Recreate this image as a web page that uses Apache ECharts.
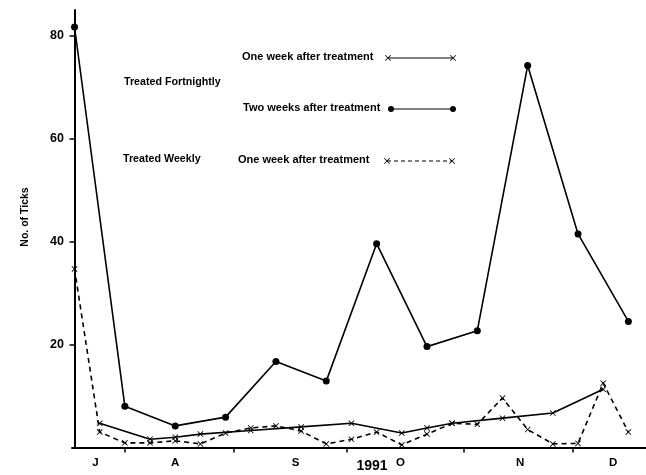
<!DOCTYPE html>
<html><head><meta charset="utf-8">
<script src="https://cdn.jsdelivr.net/npm/echarts@6/dist/echarts.min.js"></script>
<style>html,body{margin:0;padding:0;background:#fff}#c{width:646px;height:475px}</style>
</head><body><div id="c"></div>
<script>
// week index from mid-July 1991
var twoWeeksX = [0,2,4,6,8,10,12,14,16,18,20,22];
var twoWeeksY = [81.7,8.0,4.2,5.9,16.7,12.9,39.6,19.6,22.7,74.2,41.5,24.5];
var fortOneWeekX = [1,3,4,5,7,9,11,13,14,15,17,19,21];
var fortOneWeekY = [4.7,1.6,2.0,2.6,3.3,4.0,4.7,2.8,3.8,4.7,5.7,6.7,11.3];
var weeklyX = [0,1,2,3,4,5,6,7,8,9,10,11,12,13,14,15,16,17,18,19,20,21,22];
var weeklyY = [34.7,3.0,0.9,0.9,1.3,0.7,2.8,3.8,4.2,3.2,0.7,1.6,3.0,0.5,2.6,4.7,4.5,9.6,3.5,0.7,0.8,12.5,3.0];
var monthLabels = ['J','A','S','O','N','D'];
var monthLabelPos = [0.83,4.0,8.78,12.95,17.7,21.4];
var monthBoundaries = [1.99,6.31,10.8,15.45,19.78];
var yTicks = [20,40,60,80];

function pairs(xs, ys){ return xs.map(function(x,i){ return [x, ys[i]]; }); }
var XPATH = 'path://M1,0L5,4L9,0L10,1L6,5L10,9L9,10L5,6L1,10L0,9L4,5L0,1Z';
var FONT = '"Liberation Sans", Arial, sans-serif';
function xMark(cx, cy){
  var s = 3;
  var P = [[1,0],[5,4],[9,0],[10,1],[6,5],[10,9],[9,10],[5,6],[1,10],[0,9],[4,5],[0,1]];
  return {type:'polygon', shape:{points:P.map(function(p){return [cx-s+p[0]*0.6, cy-s+p[1]*0.6];})}, style:{fill:'#000'}};
}

var chart = echarts.init(document.getElementById('c'), null, {renderer:'canvas'});
chart.setOption({
  animation:false,
  backgroundColor:'#fff',
  grid:{left:72, top:10, right:0, bottom:27.5, containLabel:false},
  xAxis:{type:'value', min:-0.1, max:22.7,
    axisLine:{show:true, lineStyle:{color:'#000', width:2}},
    axisTick:{show:true, customValues:monthBoundaries, length:5, inside:false, lineStyle:{color:'#000', width:1.5}},
    axisLabel:{show:true, customValues:monthLabelPos, margin:9, color:'#000', fontWeight:'bold', fontSize:11.5, fontFamily:FONT,
      formatter:function(v){ for (var k=0;k<monthLabelPos.length;k++){ if (Math.abs(monthLabelPos[k]-v)<1e-6) return monthLabels[k]; } return ''; }},
    splitLine:{show:false}},
  yAxis:{type:'value', min:0, max:85,
    axisLine:{show:true, lineStyle:{color:'#000', width:2}},
    axisTick:{show:true, customValues:yTicks, length:5, lineStyle:{color:'#000', width:1.5}},
    axisLabel:{show:true, customValues:yTicks, margin:8, color:'#000', fontWeight:'bold', fontSize:12.5, fontFamily:FONT},
    splitLine:{show:false}},
  series:[
    {type:'line', data:pairs(twoWeeksX, twoWeeksY), symbol:'circle', symbolSize:7,
      lineStyle:{color:'#000', width:1.6}, itemStyle:{color:'#000'}},
    {type:'line', data:pairs(fortOneWeekX, fortOneWeekY), symbol:XPATH, symbolSize:6,
      lineStyle:{color:'#000', width:1.6}, itemStyle:{color:'#000'}},
    {type:'line', data:pairs(weeklyX, weeklyY), symbol:XPATH, symbolSize:6,
      lineStyle:{color:'#000', width:1.6, type:[5,4]}, itemStyle:{color:'#000'}}
  ],
  graphic:[
    {type:'text', x:25, y:217, rotation:Math.PI/2, style:{text:'No. of Ticks', fill:'#000', font:'bold 10.5px '+FONT, align:'center', verticalAlign:'middle'}},
    {type:'text', x:242, y:57, style:{text:'One week after treatment', fill:'#000', font:'bold 11px '+FONT, verticalAlign:'middle'}},
    {type:'line', shape:{x1:388,y1:58,x2:453,y2:58}, style:{stroke:'#000', lineWidth:1.2}},
    xMark(388,58), xMark(453,58),
    {type:'text', x:124, y:82, style:{text:'Treated Fortnightly', fill:'#000', font:'bold 10.7px '+FONT, verticalAlign:'middle'}},
    {type:'text', x:243, y:108, style:{text:'Two weeks after treatment', fill:'#000', font:'bold 11px '+FONT, verticalAlign:'middle'}},
    {type:'line', shape:{x1:391,y1:109,x2:453,y2:109}, style:{stroke:'#000', lineWidth:1.2}},
    {type:'circle', shape:{cx:391, cy:109, r:3}, style:{fill:'#000'}},
    {type:'circle', shape:{cx:453, cy:109, r:3}, style:{fill:'#000'}},
    {type:'text', x:123, y:159, style:{text:'Treated Weekly', fill:'#000', font:'bold 10.7px '+FONT, verticalAlign:'middle'}},
    {type:'text', x:238, y:160, style:{text:'One week after treatment', fill:'#000', font:'bold 11px '+FONT, verticalAlign:'middle'}},
    {type:'line', shape:{x1:387,y1:161,x2:452,y2:161}, style:{stroke:'#000', lineWidth:1.2, lineDash:[4,3]}},
    xMark(387,161), xMark(452,161),
    {type:'text', x:372, y:459, style:{text:'1991', fill:'#000', font:'bold 14px '+FONT, align:'center'}}
  ]
});
</script></body></html>
